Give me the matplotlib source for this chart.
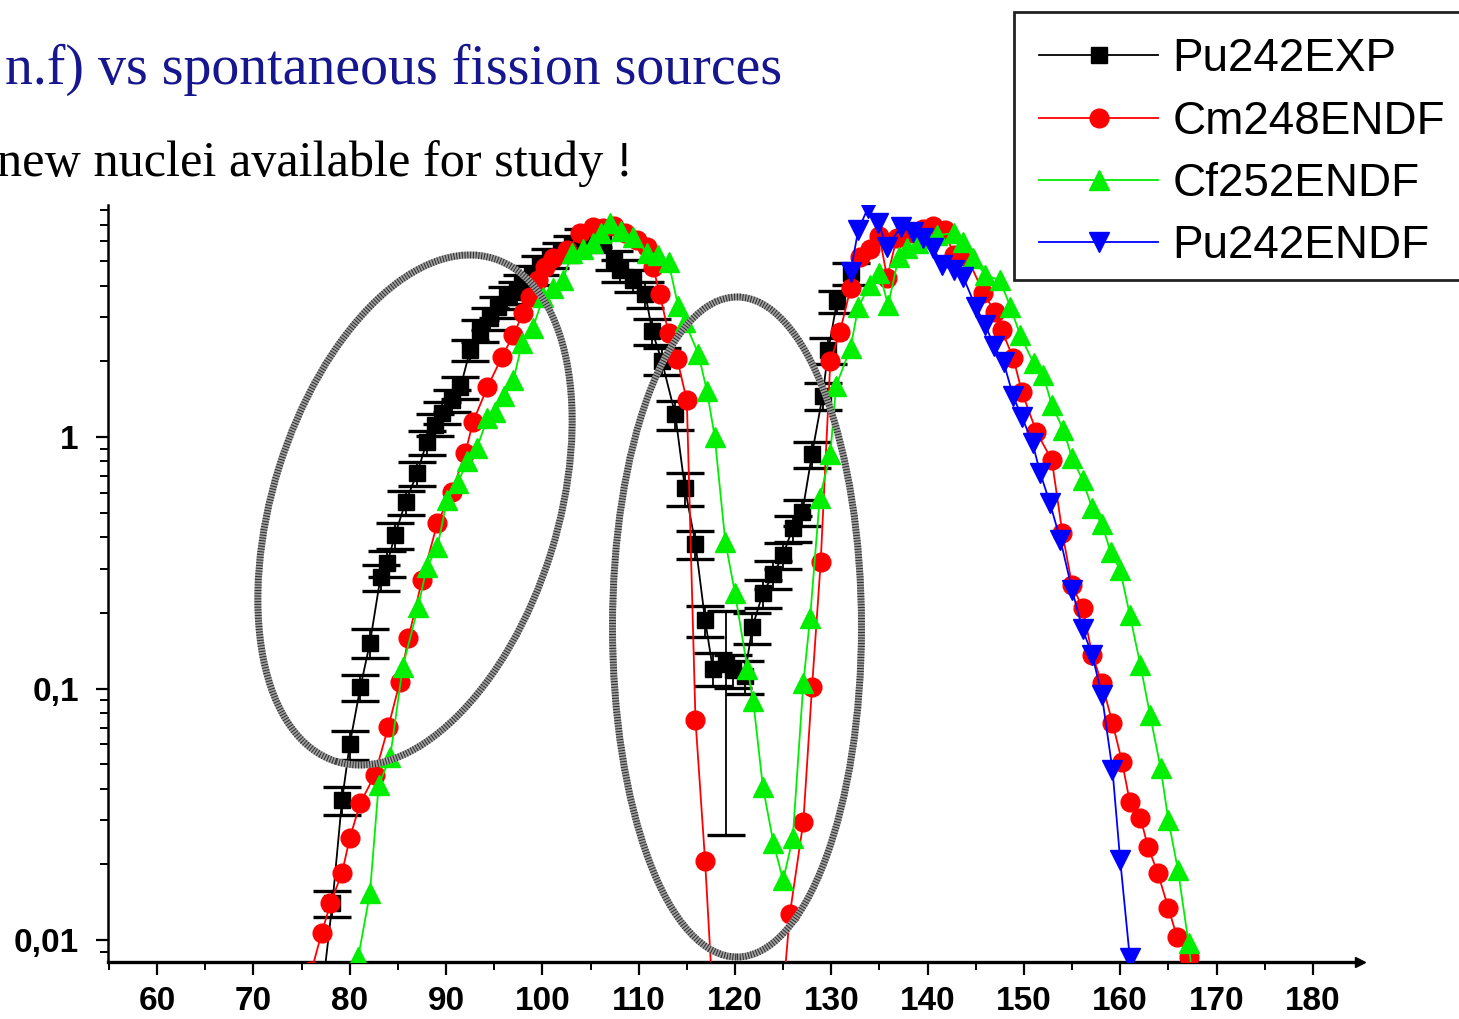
"""Fission fragment mass yields: Pu242 experiment vs ENDF spontaneous fission sources."""

import matplotlib

matplotlib.use("Agg")
import matplotlib.pyplot as plt  # noqa: E402
from matplotlib.lines import Line2D  # noqa: E402
from matplotlib.patches import Ellipse, Rectangle  # noqa: E402
from matplotlib.ticker import FixedFormatter, FixedLocator, LogLocator, MultipleLocator, NullFormatter  # noqa: E402
from matplotlib.transforms import Affine2D  # noqa: E402

# --- data (mass number, yield %) ---
exp_mass = [77.2, 78.2, 79.2, 80.0, 81.1, 82.1, 83.2, 83.9, 84.7, 85.8,
            87.0, 88.0, 88.9, 89.6, 90.6, 91.5, 92.5, 93.5, 94.6, 95.4,
            96.3, 97.4, 97.9, 98.9, 99.8, 100.8, 101.9, 103.1, 104.2, 105.3,
            106.3, 107.4, 108.1, 109.4, 110.7, 111.4, 112.4, 113.8, 114.8, 115.9,
            116.9, 117.7, 119.1, 119.8, 121.0, 121.8, 122.9, 124.0, 125.0, 126.0,
            127.0, 128.0, 129.1, 129.7, 130.6, 132.0]
exp_yield = [0.0065, 0.014, 0.036, 0.060, 0.101, 0.152, 0.278, 0.316, 0.408, 0.552,
             0.719, 0.955, 1.12, 1.25, 1.40, 1.58, 2.22, 2.66, 2.97, 3.29,
             3.60, 3.77, 4.02, 4.41, 4.83, 5.15, 5.44, 5.80, 6.18, 6.24,
             6.0, 5.06, 4.61, 4.21, 3.70, 2.64, 2.01, 1.23, 0.627, 0.376,
             0.187, 0.120, 0.125, 0.118, 0.112, 0.175, 0.240, 0.285, 0.34, 0.435,
             0.503, 0.856, 1.46, 2.22, 3.47, 4.49]
# relative error bars (lower, upper)
exp_err_lo = [0.12, 0.12, 0.13, 0.13, 0.12, 0.13, 0.12, 0.12, 0.12, 0.11,
              0.11, 0.11, 0.10, 0.10, 0.10, 0.10, 0.10, 0.10, 0.10, 0.10,
              0.10, 0.10, 0.10, 0.09, 0.09, 0.09, 0.09, 0.09, 0.09, 0.09,
              0.09, 0.09, 0.10, 0.10, 0.12, 0.12, 0.12, 0.13, 0.15, 0.13,
              0.14, 0.15, 0.79, 0.15, 0.15, 0.14, 0.13, 0.13, 0.12, 0.12,
              0.12, 0.12, 0.12, 0.12, 0.10, 0.10]
exp_err_hi = [0.12, 0.12, 0.13, 0.13, 0.12, 0.13, 0.12, 0.12, 0.12, 0.11,
              0.11, 0.11, 0.10, 0.10, 0.10, 0.10, 0.10, 0.10, 0.10, 0.10,
              0.10, 0.10, 0.10, 0.09, 0.09, 0.09, 0.09, 0.09, 0.09, 0.09,
              0.09, 0.09, 0.10, 0.10, 0.12, 0.12, 0.12, 0.13, 0.15, 0.13,
              0.14, 0.15, 0.62, 0.15, 0.15, 0.14, 0.13, 0.13, 0.12, 0.12,
              0.12, 0.12, 0.12, 0.12, 0.10, 0.10]

cm_mass = [76.0, 77.1, 78.0, 79.2, 80.0, 81.1, 82.6, 84.0, 85.2, 86.1,
           87.5, 89.1, 90.6, 92.0, 92.8, 94.3, 95.8, 97.0, 98.0, 98.7,
           99.5, 100.3, 101.1, 102.6, 103.9, 105.3, 106.3, 107.4, 108.6, 109.8,
           110.9, 111.5, 112.2, 113.1, 114.0, 115.0, 115.9, 116.9, 117.8,
           124.8, 125.7, 127.1, 128.0, 128.9, 129.9, 130.9, 132.0, 133.0, 134.0,
           135.0, 135.8, 136.8, 137.6, 138.5, 139.5, 140.6, 141.8, 142.7, 144.1,
           145.8, 147.0, 147.7, 148.9, 149.8, 151.3, 152.9, 154.0, 155.0, 156.1,
           157.1, 158.1, 159.2, 160.2, 161.0, 162.1, 162.9, 163.9, 165.0, 165.9,
           167.1, 168.0]
cm_yield = [0.0075, 0.0107, 0.0140, 0.0185, 0.0254, 0.0351, 0.0453, 0.0703, 0.106, 0.159,
            0.27, 0.455, 0.604, 0.864, 1.15, 1.58, 2.08, 2.55, 3.11, 3.60,
            4.2, 4.74, 5.15, 5.54, 6.47, 6.84, 6.80, 6.9, 6.5, 6.07,
            5.70, 4.74, 3.7, 2.59, 2.04, 1.40, 0.075, 0.0206, 0.005,
            0.005, 0.0127, 0.0295, 0.101, 0.318, 2.0, 2.62, 3.9, 5.2, 5.6,
            6.3, 4.3, 6.2, 6.4, 6.5, 6.7, 6.9, 6.65, 5.3, 5.2,
            3.74, 3.14, 2.66, 2.06, 1.51, 1.05, 0.81, 0.415, 0.258, 0.209,
            0.136, 0.105, 0.073, 0.051, 0.0354, 0.0306, 0.0234, 0.0185, 0.0134, 0.0103,
            0.0086, 0.005]

cf_mass = [80.0, 80.9, 82.1, 83.0, 84.2, 85.5, 87.1, 88.0, 89.1, 90.1,
           91.2, 92.2, 93.2, 94.3, 95.1, 96.0, 97.0, 97.9, 99.0, 100.1,
           101.1, 102.1, 103.1, 104.2, 105.3, 106.1, 107.0, 108.2, 109.4, 110.9,
           112.0, 113.1, 114.1, 114.8, 116.2, 117.1, 117.9, 119.0, 120.0, 121.3,
           121.9, 122.9, 124.0, 125.0, 126.0, 127.1, 127.8, 128.8, 129.9, 130.5,
           132.0, 132.8, 134.0, 135.0, 135.9, 137.0, 137.9, 139.0, 140.0, 141.0,
           142.7, 143.7, 144.7, 146.0, 147.5, 148.6, 149.6, 151.0, 152.0, 152.9,
           154.1, 155.0, 156.1, 157.1, 158.1, 159.0, 160.0, 161.0, 162.1, 163.1,
           164.2, 165.0, 166.0, 167.1, 168.0]
cf_yield = [0.005, 0.0086, 0.0154, 0.0413, 0.0534, 0.122, 0.211, 0.304, 0.365, 0.562,
            0.656, 0.80, 0.904, 1.19, 1.26, 1.45, 1.69, 2.37, 2.71, 3.60,
            3.9, 4.21, 5.39, 5.6, 5.91, 6.5, 7.10, 6.6, 6.24, 5.39,
            5.3, 4.97, 3.32, 2.87, 2.14, 1.52, 1.0, 0.383, 0.240, 0.120,
            0.089, 0.0406, 0.0243, 0.0173, 0.0254, 0.105, 0.191, 0.572, 0.856, 1.6,
            2.26, 3.29, 4.02, 4.5, 3.35, 5.2, 5.64, 5.9, 6.2, 6.35,
            6.47, 5.96, 5.15, 4.41, 4.2, 3.3, 2.55, 1.97, 1.77, 1.34,
            1.07, 0.826, 0.675, 0.52, 0.45, 0.35, 0.296, 0.196, 0.124, 0.0785,
            0.0483, 0.030, 0.019, 0.0097, 0.005]

pu_mass = [132.0, 132.8, 133.8, 134.9, 135.8, 137.2, 138.5, 139.5, 140.6, 141.5,
           142.7, 143.7, 145.0, 146.0, 146.9, 147.9, 148.9, 149.8, 150.9, 151.7,
           152.7, 153.8, 155.0, 156.1, 157.1, 158.1, 159.2, 160.0, 161.0, 161.9]
pu_yield = [4.53, 6.65, 8.14, 7.10, 5.69, 6.84, 6.53, 6.18, 5.64, 4.83,
            4.61, 4.33, 3.29, 2.79, 2.30, 1.98, 1.45, 1.20, 0.946, 0.719,
            0.547, 0.389, 0.247, 0.172, 0.136, 0.094, 0.0474, 0.0208, 0.0085, 0.004]

labels = ["Pu242EXP", "Cm248ENDF", "Cf252ENDF", "Pu242ENDF"]
colors = ["#000000", "#ff0000", "#00ee00", "#0000ff"]
x_ticks = [60, 70, 80, 90, 100, 110, 120, 130, 140, 150, 160, 170, 180]
y_ticks = [0.01, 0.1, 1]
y_tick_labels = ["0,01", "0,1", "1"]

W, H = 1459, 1019
fig = plt.figure(figsize=(W / 100, H / 100), dpi=100)
ax = fig.add_axes([108 / W, 1 - 962 / H, (1360 - 108) / W, (962 - 205) / H])

ax.set_yscale("log")
ax.set_xlim(54.9, 184.9)
ax.set_ylim(0.00818, 8.37)

# Pu242 experiment with error bars
lo = [y * r for y, r in zip(exp_yield, exp_err_lo)]
hi = [y * r for y, r in zip(exp_yield, exp_err_hi)]
ax.errorbar(exp_mass, exp_yield, yerr=[lo, hi], fmt="-s", color=colors[0], ms=11,
            lw=1.3, elinewidth=1.3, capsize=14, capthick=2.4, zorder=2)
ax.plot(cm_mass, cm_yield, "-o", color=colors[1], ms=13.5, lw=1.3, zorder=3)
ax.plot(cf_mass, cf_yield, "-^", color=colors[2], ms=15, lw=1.3, zorder=4)
ax.plot(pu_mass, pu_yield, "-v", color=colors[3], ms=15, lw=1.3, zorder=5)

# axes styling
for side in ("top", "right"):
    ax.spines[side].set_visible(False)
ax.spines["left"].set_linewidth(1.8)
ax.spines["bottom"].set_linewidth(2.4)
ax.xaxis.set_major_locator(FixedLocator(x_ticks))
ax.xaxis.set_minor_locator(MultipleLocator(5))
ax.yaxis.set_major_locator(FixedLocator(y_ticks))
ax.yaxis.set_major_formatter(FixedFormatter(y_tick_labels))
ax.yaxis.set_minor_locator(LogLocator(base=10, subs=range(2, 10)))
ax.yaxis.set_minor_formatter(NullFormatter())
ax.tick_params(axis="both", which="major", direction="out", length=9, width=1.6,
               labelsize=24)
ax.tick_params(axis="x", which="major", pad=8)
ax.tick_params(axis="y", which="major", pad=12)
ax.tick_params(axis="both", which="minor", direction="out", length=6, width=1.4)
for lbl in ax.get_xticklabels() + ax.get_yticklabels():
    lbl.set_family("Liberation Sans")
    lbl.set_weight("bold")
ax.plot(1, 0, ">", color="k", ms=7, transform=ax.transAxes, clip_on=False)

# hand-drawn highlight ellipses and legend box (pixel coords, origin bottom-left)
px = Affine2D().scale(1 / W, 1 / H) + fig.transFigure
for (cx, cy), w, h, ang in [((415, H - 510), 285, 527, -17.4), ((737, H - 627), 249, 660, 0)]:
    fig.patches.append(Ellipse((cx, cy), w, h, angle=ang, fill=False, lw=5,
                               edgecolor="#a0a0a0", transform=px, zorder=10))
    fig.patches.append(Ellipse((cx, cy), w, h, angle=ang, fill=False, lw=5,
                               edgecolor="#303030", linestyle=(0, (0.15, 0.25)),
                               transform=px, zorder=11))
fig.patches.append(Rectangle((1014, H - 280), 470, 268, facecolor="white",
                             edgecolor="#222222", lw=2, transform=px, zorder=12))

# slide text (the reference crops it at the left edge)
fig.text(782 / W, 1 - 84 / H, "n.f) vs spontaneous fission sources", ha="right",
         va="baseline", fontsize=40.2, family="Liberation Serif", color="#16168f")
fig.text(633 / W, 1 - 176 / H, "new nuclei available for study !", ha="right",
         va="baseline", fontsize=36.2, family="Liberation Serif", color="black")

# legend
markers = ["s", "o", "^", "v"]
sizes = [11, 13.5, 15, 15]
handles = [Line2D([0], [0], color=c, marker=m, ms=s, lw=1.3) for c, m, s in zip(colors, markers, sizes)]
leg = fig.legend(handles, labels, loc="upper left", bbox_to_anchor=(1014 / W, 1 - 12 / H),
                 bbox_transform=fig.transFigure, prop={"family": "Liberation Sans", "size": 33},
                 handlelength=2.6, handletextpad=0.3, labelspacing=0.4, borderpad=0.55,
                 borderaxespad=0, frameon=False, numpoints=1)
leg.set_zorder(13)

fig.savefig("out.png", dpi=100)
